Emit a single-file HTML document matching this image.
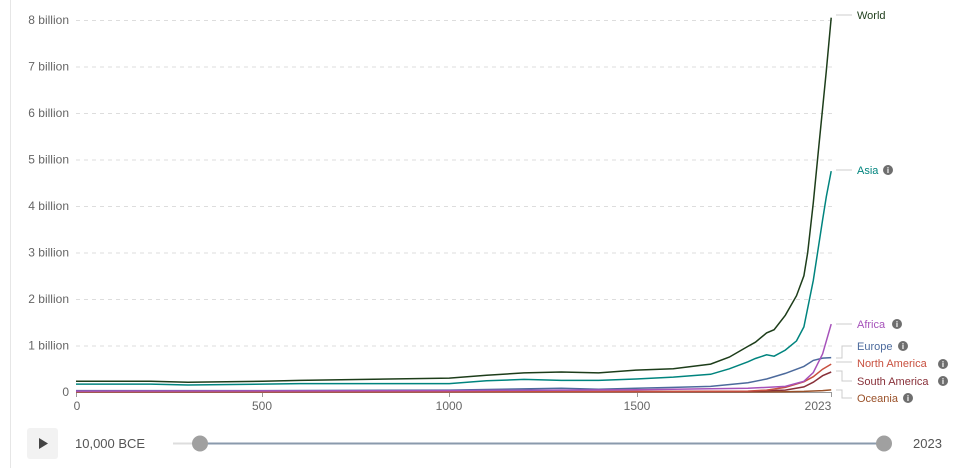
<!DOCTYPE html>
<html><head><meta charset="utf-8"><style>
body{margin:0;background:#fff;width:956px;height:468px;overflow:hidden;font-family:"Liberation Sans",sans-serif}
svg text{font-family:"Liberation Sans",sans-serif}
</style></head><body>
<svg id="s" width="956" height="468" xmlns="http://www.w3.org/2000/svg">
<line x1="10.5" y1="0" x2="10.5" y2="468" stroke="#e6e6e6"/>
<g id="grid" stroke="#dddddd" stroke-dasharray="4,4"></g>
<g id="yl" font-size="12" fill="#666" text-anchor="end"></g>
<line x1="76" y1="392.5" x2="832" y2="392.5" stroke="#999"/>
<g font-size="12" fill="#666" text-anchor="middle">
<text x="77" y="410">0</text><text x="262" y="410">500</text><text x="449" y="410">1000</text><text x="637" y="410">1500</text><text x="818" y="410">2023</text>
</g>
<g stroke="#999"><line x1="76.5" y1="392" x2="76.5" y2="397"/><line x1="262.5" y1="392" x2="262.5" y2="397"/><line x1="449.5" y1="392" x2="449.5" y2="397"/><line x1="637.5" y1="392" x2="637.5" y2="397"/><line x1="831.5" y1="392" x2="831.5" y2="397"/></g>
<g id="series" fill="none" stroke-width="1.5"></g>
<g stroke="#ccc" fill="none">
<path d="M836 15 H852"/><path d="M836 170 H852"/><path d="M836 324 H852"/>
<path d="M836 358 H842 V346 H852"/><path d="M836 362 H852"/><path d="M836 371 H842 V381 H852"/><path d="M836 390 H842 V398 H852"/>
</g>
<g font-size="11">
<text x="857" y="19" fill="#1d3d1a">World</text>
<text x="857" y="174" fill="#00847e">Asia</text>
<text x="857" y="328" fill="#a652ba">Africa</text>
<text x="857" y="350" fill="#4c6a9c">Europe</text>
<text x="857" y="367" fill="#c8503f">North America</text>
<text x="857" y="385" fill="#883039">South America</text>
<text x="857" y="402" fill="#9a5129">Oceania</text>
</g>
<g fill="#6e6e6e">
<circle cx="888" cy="170" r="5"/><circle cx="897" cy="324" r="5"/><circle cx="903" cy="346" r="5"/><circle cx="943" cy="364" r="5"/><circle cx="943" cy="381" r="5"/><circle cx="908" cy="398" r="5"/>
</g>
<g font-size="8" fill="#fff" font-weight="bold" text-anchor="middle">
<text x="888" y="173">i</text><text x="897" y="327">i</text><text x="903" y="349">i</text><text x="943" y="367">i</text><text x="943" y="384">i</text><text x="908" y="401">i</text>
</g>
<rect x="27" y="428" width="31" height="31" rx="3" fill="#f2f2f2"/>
<path d="M39 438 L48 443.5 L39 449 Z" fill="#444"/>
<text x="75" y="448" font-size="13" fill="#555">10,000 BCE</text>
<line x1="173" y1="443.5" x2="200" y2="443.5" stroke="#ddd" stroke-width="2"/>
<line x1="200" y1="443.5" x2="884" y2="443.5" stroke="#8a9aac" stroke-width="2"/>
<circle cx="200" cy="443.5" r="8" fill="#a0a0a0"/>
<circle cx="884" cy="443.5" r="8" fill="#a0a0a0"/>
<text x="913" y="448" font-size="13" fill="#555">2023</text>
</svg>
<script>
var NS="http://www.w3.org/2000/svg";
function X(y){return 76+y*0.3733}function Y(v){return 392-v*46.5}
var g=document.getElementById('grid'),yl=document.getElementById('yl');
for(var i=0;i<=8;i++){var y=Y(i);
 if(i>0){var l=document.createElementNS(NS,'line');l.setAttribute('x1',76);l.setAttribute('x2',832);l.setAttribute('y1',y+.5);l.setAttribute('y2',y+.5);g.appendChild(l);}
 var t=document.createElementNS(NS,'text');t.setAttribute('x',69);t.setAttribute('y',y+4);t.textContent=i?i+' billion':'0';yl.appendChild(t);}
var S=[
["#9a5129",[[0,0.001],[1800,0.002],[1900,0.006],[1950,0.013],[2000,0.031],[2023,0.045]]],
["#883039",[[0,0.005],[1500,0.01],[1800,0.012],[1900,0.04],[1950,0.11],[1975,0.21],[2000,0.35],[2023,0.43]]],
["#c8503f",[[0,0.01],[1500,0.01],[1800,0.02],[1850,0.04],[1900,0.1],[1950,0.22],[1975,0.33],[2000,0.49],[2023,0.6]]],
["#4c6a9c",[[0,0.03],[500,0.03],[1000,0.04],[1300,0.08],[1400,0.06],[1500,0.08],[1600,0.1],[1700,0.12],[1800,0.2],[1850,0.28],[1900,0.4],[1950,0.55],[1975,0.68],[2000,0.73],[2023,0.74]]],
["#a652ba",[[0,0.02],[1000,0.03],[1500,0.05],[1800,0.08],[1900,0.12],[1950,0.23],[1975,0.42],[2000,0.82],[2023,1.46]]],
["#00847e",[[0,0.17],[200,0.17],[300,0.15],[500,0.17],[600,0.18],[1000,0.18],[1100,0.24],[1200,0.27],[1300,0.25],[1400,0.25],[1500,0.28],[1600,0.32],[1700,0.38],[1750,0.5],[1800,0.65],[1820,0.72],[1850,0.8],[1870,0.77],[1900,0.9],[1930,1.1],[1950,1.4],[1975,2.4],[2000,3.7],[2010,4.2],[2023,4.75]]],
["#1d3d1a",[[0,0.23],[200,0.23],[300,0.21],[500,0.23],[600,0.25],[1000,0.3],[1100,0.36],[1200,0.41],[1300,0.43],[1400,0.41],[1500,0.47],[1600,0.5],[1700,0.6],[1750,0.75],[1800,0.98],[1820,1.07],[1850,1.27],[1870,1.34],[1900,1.65],[1930,2.07],[1950,2.5],[1960,3.0],[1975,4.07],[1990,5.3],[2000,6.1],[2010,6.9],[2023,8.05]]]];
var sg=document.getElementById('series');
S.forEach(function(s){var d=s[1].map(function(p,i){return (i?'L':'M')+X(p[0]).toFixed(1)+' '+Y(p[1]).toFixed(1)}).join(' ');
var p=document.createElementNS(NS,'path');p.setAttribute('d',d);p.setAttribute('stroke',s[0]);sg.appendChild(p);});
</script>
</body></html>
